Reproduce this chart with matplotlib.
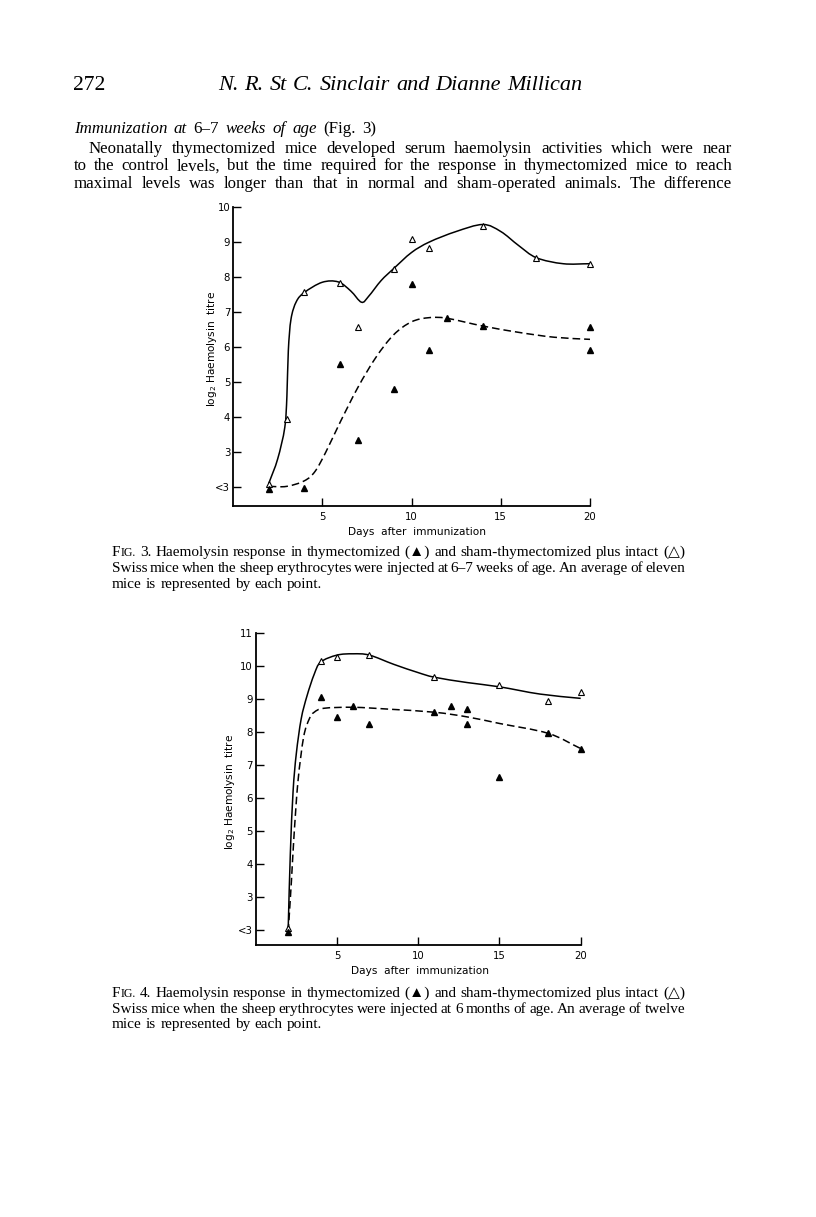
"""
Page 272 replica: two haemolysin response charts with surrounding text.
"""
import numpy as np
import matplotlib
matplotlib.use("Agg")
import matplotlib.pyplot as plt
from matplotlib.path import Path
from matplotlib.patches import PathPatch

W, H = 816, 1217
SERIF = ["Liberation Serif", "DejaVu Sans"]
SANS = ["DejaVu Sans"]

# ---- Fig. 3 data (days, log2 titre; "<3" plotted at 2) ----
fig3_sham_days = [2, 3, 4, 6, 7, 9, 10, 11, 14, 17, 20]
fig3_sham_titre = [2.09, 3.95, 7.56, 7.83, 6.56, 8.24, 9.09, 8.84, 9.46, 8.55, 8.38]
fig3_thx_days = [2, 4, 6, 7, 9, 10, 11, 12, 14, 20, 20]
fig3_thx_titre = [1.94, 1.97, 5.53, 3.35, 4.81, 7.81, 5.91, 6.84, 6.61, 6.58, 5.91]
# hand-drawn trend curves, knots
fig3_solid_x = [2.0, 2.5, 2.9, 3.02, 3.1, 3.25, 3.55, 4.0, 5.0, 5.9, 6.6, 7.2, 7.6, 8.3,
                9.0, 10.0, 11.0, 12.5, 14.0, 15.0, 16.0, 17.0, 18.5, 20.0]
fig3_solid_y = [2.1, 2.8, 3.7, 4.6, 5.9, 6.8, 7.3, 7.56, 7.85, 7.86, 7.6, 7.28, 7.45, 7.9,
                8.24, 8.7, 9.0, 9.3, 9.5, 9.3, 8.9, 8.55, 8.38, 8.38]
fig3_dash_x = [2.0, 3.0, 4.0, 4.6, 5.2, 6.0, 7.0, 8.0, 9.0, 10.0, 11.0, 12.0, 14.0, 16.0, 18.0, 20.0]
fig3_dash_y = [2.02, 2.02, 2.18, 2.45, 3.0, 3.85, 4.85, 5.7, 6.35, 6.72, 6.84, 6.82, 6.6, 6.42, 6.28, 6.22]

# ---- Fig. 4 data ----
fig4_sham_days = [2, 4, 5, 7, 11, 15, 18, 20]
fig4_sham_titre = [2.05, 10.16, 10.28, 10.33, 9.68, 9.42, 8.94, 9.2]
fig4_thx_days = [2, 4, 5, 6, 7, 11, 12, 13, 13, 15, 18, 20]
fig4_thx_titre = [1.93, 9.07, 8.46, 8.79, 8.23, 8.62, 8.78, 8.69, 8.24, 6.65, 7.96, 7.5]
fig4_solid_x = [2.0, 2.13, 2.3, 2.5, 2.8, 3.16, 3.6, 4.0, 5.0, 6.0, 7.0, 8.5, 10.0,
                11.0, 13.0, 15.0, 17.5, 20.0]
fig4_solid_y = [2.05, 4.3, 6.2, 7.35, 8.4, 9.1, 9.75, 10.12, 10.33, 10.37, 10.33, 10.05,
                9.8, 9.66, 9.5, 9.37, 9.15, 9.02]
fig4_dash_x = [2.0, 2.2, 2.35, 2.6, 2.95, 3.3, 3.6, 4.2, 6.0, 8.3, 11.0, 13.0, 15.0, 18.0, 20.0]
fig4_dash_y = [1.95, 3.5, 4.8, 6.5, 7.85, 8.4, 8.6, 8.72, 8.75, 8.69, 8.6, 8.46, 8.26, 7.96, 7.5]

x_ticks = [5, 10, 15, 20]
fig3_yticks = [2, 3, 4, 5, 6, 7, 8, 9, 10]
fig3_ylabels = ["<3", "3", "4", "5", "6", "7", "8", "9", "10"]
fig4_yticks = [2, 3, 4, 5, 6, 7, 8, 9, 10, 11]
fig4_ylabels = ["<3", "3", "4", "5", "6", "7", "8", "9", "10", "11"]

body_lines = [
    "Neonatally thymectomized mice developed serum haemolysin activities which were near",
    "to the control levels, but the time required for the response in thymectomized mice to reach",
    "maximal levels was longer than that in normal and sham-operated animals. The difference",
]
caption3 = [
    "Haemolysin response in thymectomized (\u25b2) and sham-thymectomized plus intact (\u25b3)",
    "Swiss mice when the sheep erythrocytes were injected at 6\u20137 weeks of age. An average of eleven",
    "mice is represented by each point.",
]
caption4 = [
    "Haemolysin response in thymectomized (\u25b2) and sham-thymectomized plus intact (\u25b3)",
    "Swiss mice when the sheep erythrocytes were injected at 6 months of age. An average of twelve",
    "mice is represented by each point.",
]


def fx(px):
    return px / W


def fy(py):
    return 1 - py / H


def smooth_path(xs, ys):
    """Catmull-Rom knots turned into cubic Bezier segments."""
    p = np.column_stack([xs, ys]).astype(float)
    p = np.vstack([2 * p[0] - p[1], p, 2 * p[-1] - p[-2]])
    verts = [p[1]]
    codes = [Path.MOVETO]
    for i in range(1, len(p) - 2):
        p0, p1, p2, p3 = p[i - 1], p[i], p[i + 1], p[i + 2]
        verts += [p1 + (p2 - p0) / 6, p2 - (p3 - p1) / 6, p2]
        codes += [Path.CURVE4] * 3
    return Path(verts, codes)


def words_of(s, **style):
    return [[(w, style)] for w in s.split()]


def write_line(fig, renderer, words, x0, y, x1=None, size=11, **kw):
    placed, widths = [], []
    for word in words:
        runs, total = [], 0
        for text, style in word:
            st = dict(fontsize=size, family=SERIF)
            st.update(kw)
            st.update(style)
            t = fig.text(0, fy(y), text, va="baseline", ha="left", **st)
            tw = t.get_window_extent(renderer).width
            runs.append((t, tw))
            total += tw
        placed.append(runs)
        widths.append(total)
    gap = size * 100 / 72 * 0.28
    if x1 is not None and len(words) > 1:
        gap = (x1 - x0 - sum(widths)) / (len(words) - 1)
    x = x0
    for runs, total in zip(placed, widths):
        for t, tw in runs:
            t.set_x(fx(x))
            x += tw
        x += gap


def draw_chart(ax, sham_x, sham_y, thx_x, thx_y, sx, sy, dx, dy, yticks, ylabels, ylim):
    ax.add_patch(PathPatch(smooth_path(sx, sy), fill=False, color="black", lw=1.1))
    ax.add_patch(PathPatch(smooth_path(dx, dy), fill=False, color="black", lw=1.1,
                           linestyle=(0, (5, 2.6))))
    ax.plot(sham_x, sham_y, "^", ms=4.6, mfc="white", mec="black", mew=0.8,
            clip_on=False, zorder=4)
    ax.plot(thx_x, thx_y, "^", ms=4.9, color="black", clip_on=False, zorder=5)
    ax.set_xlim(0, 20)
    ax.set_ylim(*ylim)
    ax.set_xticks(x_ticks)
    ax.set_yticks(yticks)
    ax.set_yticklabels(ylabels)
    for side in ["top", "right"]:
        ax.spines[side].set_visible(False)
    for side in ["left", "bottom"]:
        ax.spines[side].set_linewidth(1.3)
    ax.xaxis.set_tick_params(direction="in", length=6, width=1.0, labelsize=7.3, pad=4)
    ax.yaxis.set_tick_params(direction="in", length=6, width=1.0, labelsize=7.3, pad=2)
    ax.set_xlabel("Days  after  immunization", fontsize=7.6, family=SANS)
    ax.set_ylabel(r"log$_2$ Haemolysin  titre", fontsize=7.6, family=SANS)
    ax.patch.set_alpha(0)


fig = plt.figure(figsize=(W / 100, H / 100), dpi=100)
renderer = fig.canvas.get_renderer()

# page header and body text
write_line(fig, renderer, words_of("272"), 73, 90, size=15.5)
write_line(fig, renderer, words_of("N. R. St C. Sinclair and Dianne Millican", fontstyle="italic"),
           218, 90, x1=582, size=16)
it = {"fontstyle": "italic"}
heading = [[("Immunization", it)], [("at", it)], [("6\u20137", {})], [("weeks", it)],
           [("of", it)], [("age", it)], [("(Fig.", {})], [("3)", {})]]
write_line(fig, renderer, heading, 74, 133, x1=376, size=12.2)
write_line(fig, renderer, words_of(body_lines[0]), 89, 153, x1=732, size=12.2)
write_line(fig, renderer, words_of(body_lines[1]), 74, 170.5, x1=732, size=12.2)
write_line(fig, renderer, words_of(body_lines[2]), 74, 188, x1=732, size=12.2)

# Fig. 3 axes: x 233..590 px, y 207 (10) .. 506 px
ax3 = fig.add_axes([fx(233), fy(506), 357 / W, 299 / H])
draw_chart(ax3, fig3_sham_days, fig3_sham_titre, fig3_thx_days, fig3_thx_titre,
           fig3_solid_x, fig3_solid_y, fig3_dash_x, fig3_dash_y,
           fig3_yticks, fig3_ylabels, (1.46, 10))
ax3.xaxis.set_label_coords(0.515, -0.087)
ax3.xaxis.label.set_va("center")
ax3.yaxis.set_label_coords(-0.059, 0.525)
ax3.yaxis.label.set_va("center")

# Fig. 4 axes: x 255.7..580.7 px, y 633 (11) .. 945 px
ax4 = fig.add_axes([fx(255.7), fy(945), 325 / W, 312 / H])
draw_chart(ax4, fig4_sham_days, fig4_sham_titre, fig4_thx_days, fig4_thx_titre,
           fig4_solid_x, fig4_solid_y, fig4_dash_x, fig4_dash_y,
           fig4_yticks, fig4_ylabels, (1.55, 11))
ax4.xaxis.set_label_coords(0.506, -0.082)
ax4.xaxis.label.set_va("center")
ax4.yaxis.set_label_coords(-0.079, 0.49)
ax4.yaxis.label.set_va("center")

# captions
for num, lines, base in [("3.", caption3, 556), ("4.", caption4, 996.7)]:
    first = [[("F", {}), ("IG.", {"fontsize": 8.6})], [(num, {})]] + words_of(lines[0])
    write_line(fig, renderer, first, 112, base, x1=685, size=11)
    write_line(fig, renderer, words_of(lines[1]), 112, base + 16, x1=685, size=11)
    write_line(fig, renderer, words_of(lines[2]), 112, base + 31.5, size=11)

fig.savefig("out.png", dpi=100)
